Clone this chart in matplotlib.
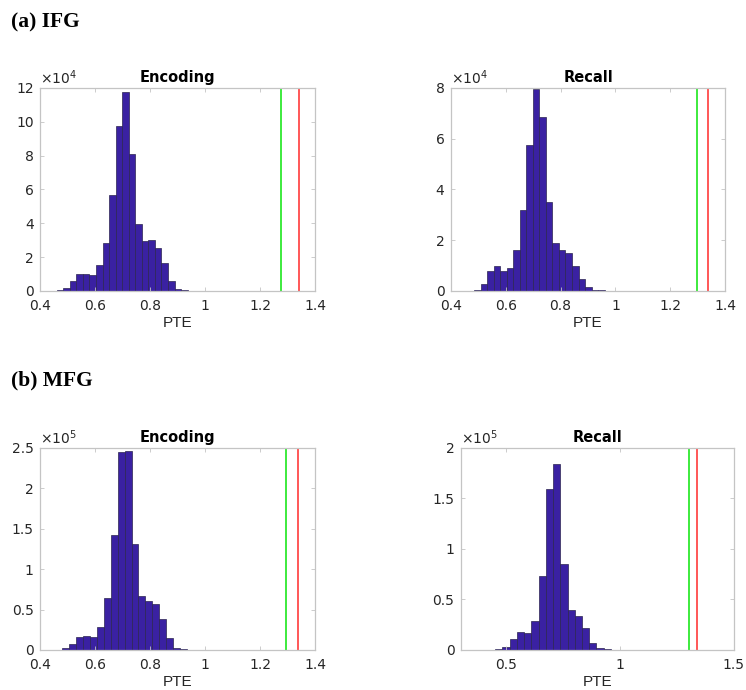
import numpy as np
import matplotlib
matplotlib.use("Agg")
import matplotlib.pyplot as plt
from matplotlib.ticker import FuncFormatter

plt.rcParams["font.family"] = ["DejaVu Sans"]
plt.rcParams["mathtext.fontset"] = "dejavusans"

# null distributions of PTE (histogram counts) and the observed values
ifg_enc_start, ifg_enc_width = 0.437, 0.0238
ifg_enc_counts = [100, 400, 2000, 6000, 10300, 10000, 9300, 15100, 28600, 56900,
                  97600, 117600, 81100, 39400, 29400, 30000, 25200, 16300, 5800,
                  1200, 300, 100]
ifg_enc_green, ifg_enc_red = 1.276, 1.343

ifg_rec_start, ifg_rec_width = 0.437, 0.0238
ifg_rec_counts = [50, 100, 500, 2600, 7700, 10000, 7900, 9100, 16200, 32000,
                  57700, 79700, 68500, 35100, 18800, 16300, 14800, 9900, 4900,
                  1600, 500, 200]
ifg_rec_green, ifg_rec_red = 1.297, 1.337

mfg_enc_start, mfg_enc_width = 0.4306, 0.0252
mfg_enc_counts = [100, 300, 2000, 7000, 16000, 17000, 16000, 29000, 64000,
                  142000, 245000, 246000, 131000, 67000, 60000, 56500, 38000,
                  15000, 3000, 800, 200]
mfg_enc_green, mfg_enc_red = 1.293, 1.337

mfg_rec_start, mfg_rec_width = 0.4197, 0.0318
mfg_rec_counts = [300, 1000, 3000, 11000, 18000, 16500, 29000, 73000, 159500,
                  183500, 85300, 39500, 34000, 22000, 7200, 1600, 500, 300, 200,
                  100, 100, 100]
mfg_rec_green, mfg_rec_red = 1.303, 1.338

bar_color = "#3a21a2"
bar_edge = "#2b2450"
axis_gray = "#c4c4c4"
text_gray = "#262626"


def fmt(v, pos):
    return f"{v:g}"


def draw_hist(ax, start, width, counts, green, red, xlim, xticks, ylim, yticks, exp, title):
    edges = start + width * np.arange(len(counts) + 1)
    ax.hist(edges[:-1], bins=edges, weights=counts, color=bar_color,
            edgecolor=bar_edge, linewidth=0.5)
    ax.axvline(green, color="#2ee82e", lw=1.3)
    ax.axvline(red, color="#ff4a4a", lw=1.3)
    ax.set_xlim(xlim)
    ax.set_ylim(0, ylim)
    ax.set_xticks(xticks)
    ax.set_yticks(yticks)
    scale = 10 ** exp
    ax.xaxis.set_major_formatter(FuncFormatter(fmt))
    ax.yaxis.set_major_formatter(FuncFormatter(lambda v, p: f"{v / scale:g}"))
    ax.text(0.0, 1.004, r"$\times10^{%d}$" % exp, transform=ax.transAxes,
            ha="left", va="bottom", fontsize=10, color=text_gray)
    for s in ax.spines.values():
        s.set_color(axis_gray)
        s.set_linewidth(0.9)
    ax.tick_params(direction="in", length=3, width=0.6, color=axis_gray,
                   labelsize=10, labelcolor=text_gray, top=True, right=True)
    ax.tick_params(axis="x", pad=6)
    ax.tick_params(axis="y", pad=4.5)
    ax.set_title(title, fontsize=10.5, fontweight="bold", pad=4)
    ax.set_xlabel("PTE", fontsize=11, family="Liberation Sans", color=text_gray, labelpad=2)


fig = plt.figure(figsize=(7.46, 6.90), dpi=100)

ax1 = fig.add_axes([0.0536, 0.5783, 0.3686, 0.2942])
draw_hist(ax1, ifg_enc_start, ifg_enc_width, ifg_enc_counts, ifg_enc_green, ifg_enc_red,
          (0.4, 1.4), [0.4, 0.6, 0.8, 1.0, 1.2, 1.4], 120000, np.arange(0, 120001, 20000),
          4, "Encoding")

ax2 = fig.add_axes([0.6042, 0.5783, 0.3681, 0.2942])
draw_hist(ax2, ifg_rec_start, ifg_rec_width, ifg_rec_counts, ifg_rec_green, ifg_rec_red,
          (0.4, 1.4), [0.4, 0.6, 0.8, 1.0, 1.2, 1.4], 80000, np.arange(0, 80001, 20000),
          4, "Recall")

ax3 = fig.add_axes([0.0536, 0.058, 0.3686, 0.2932])
draw_hist(ax3, mfg_enc_start, mfg_enc_width, mfg_enc_counts, mfg_enc_green, mfg_enc_red,
          (0.4, 1.4), [0.4, 0.6, 0.8, 1.0, 1.2, 1.4], 250000, np.arange(0, 250001, 50000),
          5, "Encoding")

ax4 = fig.add_axes([0.6176, 0.058, 0.3660, 0.2932])
draw_hist(ax4, mfg_rec_start, mfg_rec_width, mfg_rec_counts, mfg_rec_green, mfg_rec_red,
          (0.3, 1.5), [0.5, 1.0, 1.5], 200000, np.arange(0, 200001, 50000),
          5, "Recall")

fig.text(11 / 746, 1 - 27 / 690, "(a) IFG", family="Liberation Serif",
         fontweight="bold", fontsize=15.5, va="baseline")
fig.text(11 / 746, 1 - 385 / 690, "(b) MFG", family="Liberation Serif",
         fontweight="bold", fontsize=15.5, va="baseline")

fig.savefig("out.png", dpi=100)
